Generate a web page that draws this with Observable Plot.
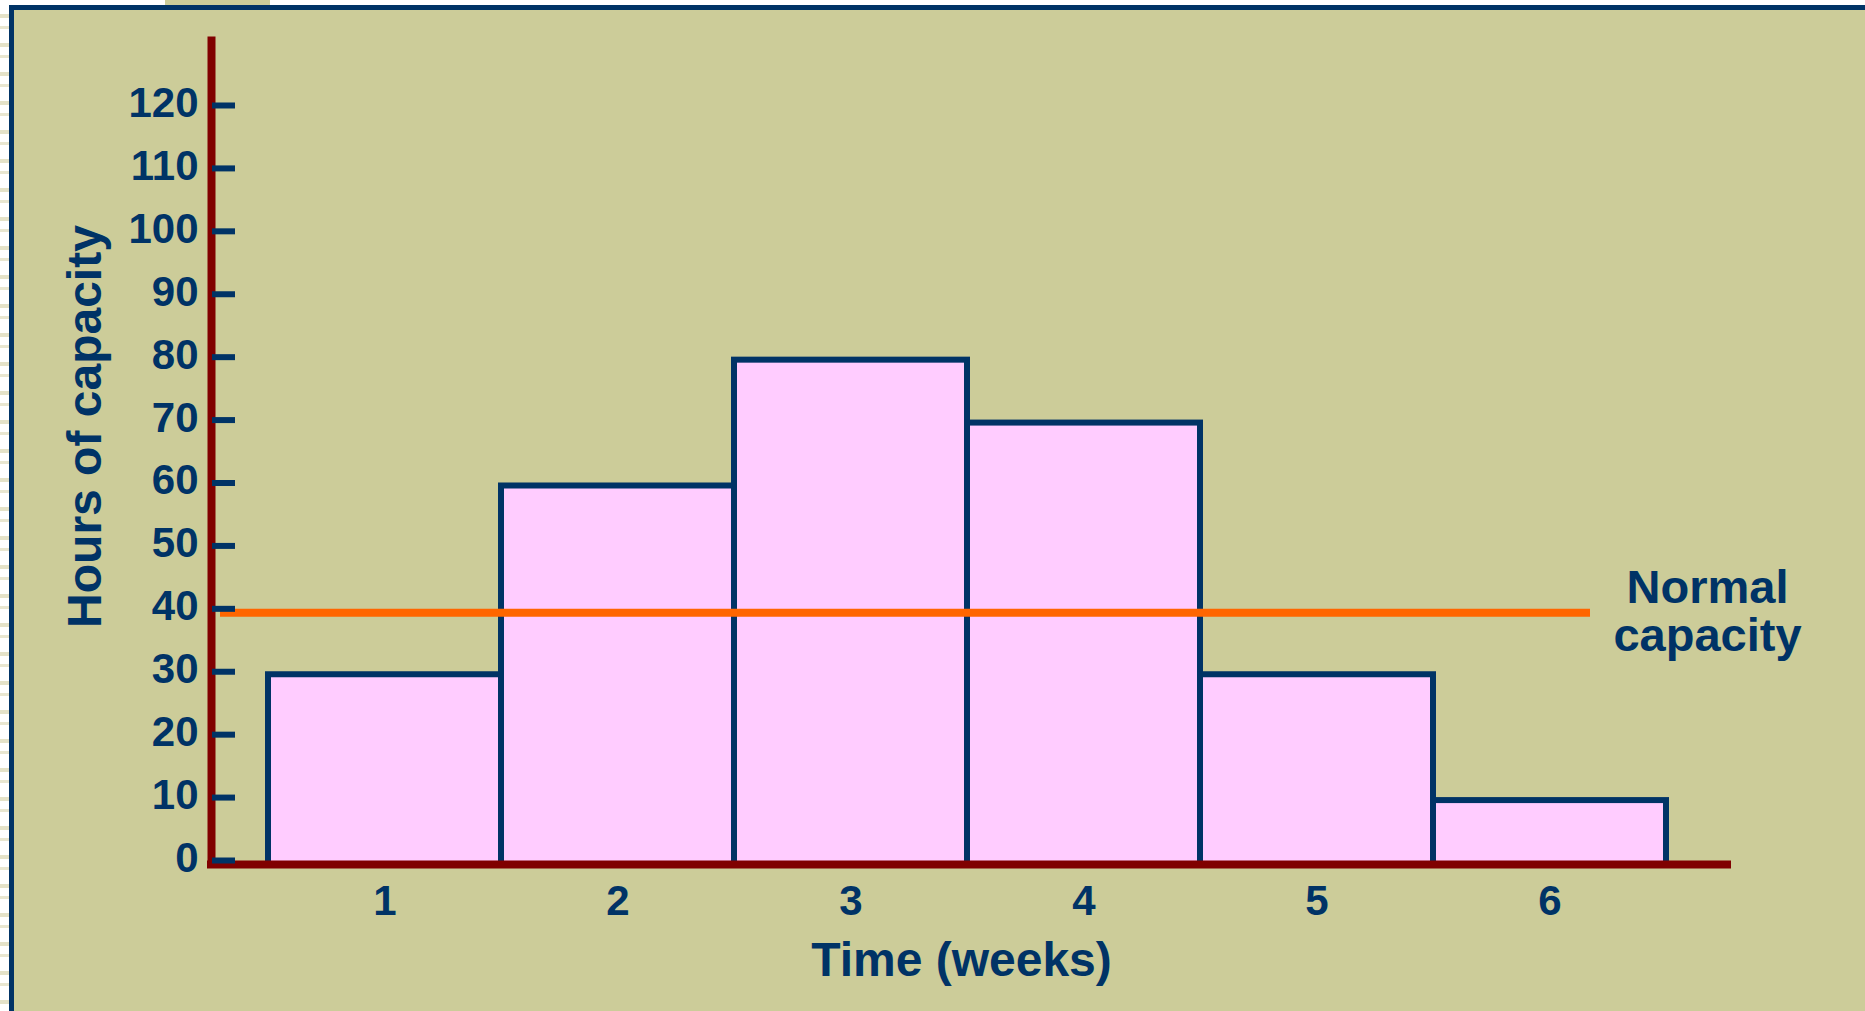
<!DOCTYPE html>
<html><head><meta charset="utf-8">
<script src="https://cdn.jsdelivr.net/npm/d3@7"></script>
<script src="https://cdn.jsdelivr.net/npm/@observablehq/plot@0.6"></script>
<style>
html,body{margin:0;padding:0;overflow:hidden;background:#fff;width:1865px;height:1011px;}
#stripes{position:absolute;left:0;top:0;width:9px;height:1011px;background:repeating-linear-gradient(to bottom,#ffffff 0px,#ffffff 14px,#e4e2c8 14px,#e4e2c8 18px,#ffffff 18px,#ffffff 26px,#e8e6d0 26px,#e8e6d0 29px);}
#panel{position:absolute;left:9px;top:5px;right:0;bottom:0;border-left:5px solid #003366;border-top:5px solid #003366;background:#CCCC99;}
#tab{position:absolute;left:165px;top:0;width:105px;height:5px;background:#CCCC99;}
#chart{position:absolute;left:0;top:0;}
</style></head>
<body>
<div id="stripes"></div><div id="panel"></div><div id="tab"></div><div id="chart"></div>
<script>
const weeks = [1, 2, 3, 4, 5, 6];
const hours = [30, 60, 80, 70, 30, 10];
const yTicks = [0, 10, 20, 30, 40, 50, 60, 70, 80, 90, 100, 110, 120];
const normalCapacity = 40;
const xTitle = "Time (weeks)";
const yTitle = "Hours of capacity";
const normalLabel = "Normal\ncapacity";

const data = weeks.map((w, i) => ({week: w, hours: hours[i]}));
const W = 1865, H = 1011, mL = 211, mR = 134, mT = 40, mB = 151;
const frameW = W - mL - mR;
const navy = "#003366", red = "#800000", orange = "#FF6600", pink = "#FFCCFF";
const font = "'Liberation Sans', Arial, Helvetica, sans-serif";

const plot = Plot.plot({
  width: W, height: H, marginLeft: mL, marginRight: mR, marginTop: mT, marginBottom: mB,
  style: {background: "transparent", color: navy, fontFamily: font, overflow: "visible"},
  x: {type: "band", domain: weeks, paddingInner: 0, paddingOuter: 0.259, align: 0.4636, label: null},
  y: {domain: [0, 130.33], label: null},
  marks: [
    Plot.barY(data, {x: "week", y: "hours", fill: pink, stroke: navy, strokeWidth: 6, insetTop: 3, insetBottom: -4}),
    Plot.frame({anchor: "left", stroke: red, strokeWidth: 8}),
    Plot.ruleY([0], {stroke: red, strokeWidth: 8, dy: 4, insetLeft: -4}),
    Plot.ruleY([normalCapacity], {stroke: orange, strokeWidth: 8, dy: 4, insetLeft: 9, insetRight: 141}),
    Plot.tickY(yTicks, {y: d => d, stroke: navy, strokeWidth: 6, insetLeft: 1, insetRight: frameW - 24}),
    Plot.axisY({ticks: yTicks, label: null, tickSize: 0, tickPadding: 13, fontSize: 42, fontWeight: "bold", fill: navy, dy: -2}),
    Plot.axisX({label: null, tickSize: 0, tickPadding: 25, fontSize: 42, fontWeight: "bold", fill: navy}),
    Plot.text([yTitle], {frameAnchor: "left", rotate: -90, dx: -111, dy: -24, textAnchor: "middle", lineAnchor: "bottom", fontSize: 48, fontWeight: "bold", fill: navy}),
    Plot.text([xTitle], {frameAnchor: "bottom", dx: -10, dy: 115, textAnchor: "middle", lineAnchor: "bottom", fontSize: 48, fontWeight: "bold", fill: navy}),
    Plot.text([normalCapacity], {y: d => d, text: () => normalLabel, frameAnchor: "right", dx: -24, dy: 3, textAnchor: "middle", lineAnchor: "middle", lineHeight: 1.02, fontSize: 47, fontWeight: "bold", fill: navy})
  ]
});
document.getElementById("chart").appendChild(plot);
</script>
</body></html>
